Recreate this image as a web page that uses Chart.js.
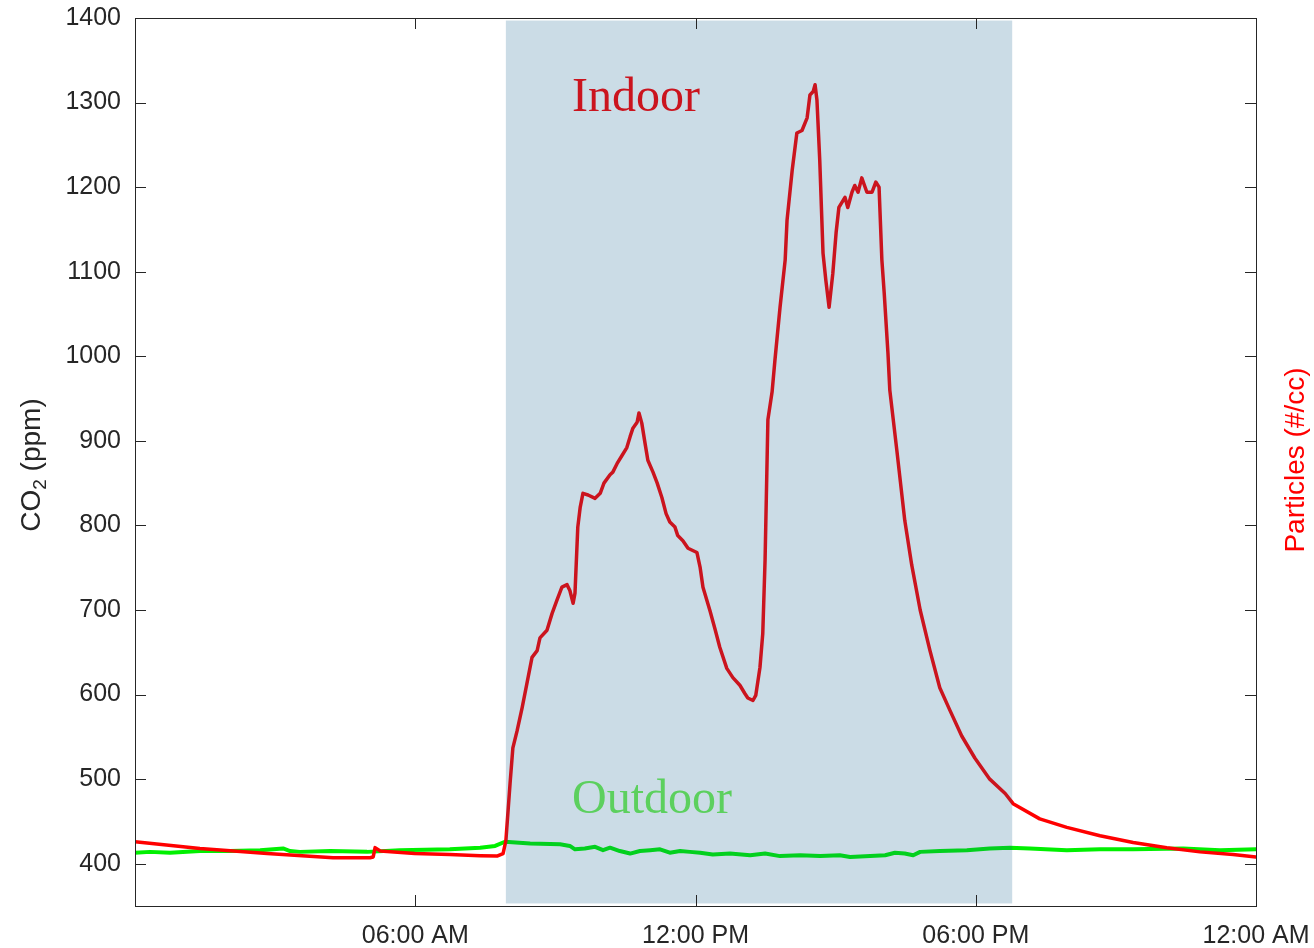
<!DOCTYPE html>
<html>
<head>
<meta charset="utf-8">
<script src="https://cdn.jsdelivr.net/npm/chart.js@4"></script>
<style>
  html, body { margin: 0; padding: 0; background: #ffffff; }
  #wrap { width: 1314px; height: 948px; position: relative; }
</style>
</head>
<body>
<div id="wrap"><canvas id="c" width="1314" height="948"></canvas></div>
<script>
// ---- Data (hours since midnight, CO2 ppm) ----
const indoorHours = [0.00,1.39,2.83,4.24,5.03,5.10,5.14,5.25,5.99,6.74,7.39,7.75,7.88,7.94,8.03,8.09,8.18,8.29,8.39,8.50,8.61,8.67,8.82,8.93,9.03,9.14,9.25,9.31,9.38,9.42,9.48,9.53,9.59,9.70,9.85,9.96,10.04,10.17,10.23,10.32,10.43,10.53,10.60,10.66,10.75,10.79,10.85,10.92,10.98,11.09,11.18,11.28,11.37,11.45,11.56,11.62,11.73,11.84,12.03,12.10,12.16,12.31,12.42,12.52,12.67,12.80,12.95,13.06,13.12,13.23,13.29,13.38,13.44,13.49,13.55,13.64,13.70,13.81,13.92,13.96,14.07,14.17,14.28,14.39,14.45,14.52,14.56,14.60,14.66,14.73,14.79,14.86,14.94,15.01,15.07,15.20,15.26,15.35,15.41,15.48,15.56,15.67,15.78,15.86,15.93,15.99,16.04,16.12,16.16,16.31,16.48,16.63,16.81,17.02,17.23,17.45,17.70,17.98,18.30,18.63,18.80,19.37,19.95,20.66,21.37,22.09,22.80,23.51,24.00];
const indoorCO2 = [426,418,412,407,407,408,419,415,412,411,409.5,409,412,427,495,537,557,585,613,644,652,667,676,696,711,727,730,723,708,720,798,821,838,836,832,838,850,860,863,873,883,892,905,915,922,933,921,897,877,863,850,833,814,804,798,788,782,773,768,750,727,699,677,656,631,620,611,601,596,593,599,632,672,760,925,958,995,1058,1114,1161,1220,1264,1267,1282,1309,1313,1321,1303,1232,1122,1090,1058,1098,1146,1176,1188,1176,1194,1202,1194,1211,1194,1194,1206,1200,1114,1075,1004,960,889,806,753,700,652,608,581,551,525,500,483,471,453,443,433,425,419,414,411,408];

const outdoorHours = [0.00,0.32,0.75,1.39,2.03,2.68,3.17,3.32,3.53,4.18,4.97,5.67,6.74,7.39,7.71,7.92,8.46,9.10,9.31,9.42,9.63,9.85,10.02,10.17,10.38,10.60,10.81,11.03,11.24,11.45,11.67,11.88,12.10,12.37,12.74,13.17,13.49,13.81,14.24,14.67,15.09,15.31,15.74,16.06,16.27,16.48,16.66,16.81,17.23,17.81,18.30,18.73,19.16,19.95,20.66,21.37,22.44,23.23,24.00];
const outdoorCO2 = [413,414,413,415,415,416,418,415,414,415,414,416,417,419,421,426,424,423,421,417,418,420,416,419,415,412,415,416,417,413,415,414,413,411,412,410,412,409,410,409,410,408,409,410,413,412,410,414,415,416,418,419,418,416,417,417,418,416,417];

const xTickHours = [6, 12, 18, 24];
const xTickLabels = ['06:00 AM', '12:00 PM', '06:00 PM', '12:00 AM'];
const yTicks = [400, 500, 600, 700, 800, 900, 1000, 1100, 1200, 1300, 1400];

// occupied period (shaded), hours and ppm extent
const shadeStartHour = 7.94, shadeEndHour = 18.78;
const shadeTopPPM = 1397, shadeBottomPPM = 353;

const toPoints = (xs, ys) => xs.map((x, i) => ({ x: x, y: ys[i] }));

const TXT = '#262626';
const FONT = '"Liberation Sans", Arial, sans-serif';
const zeroPad = s => { s.paddingTop = 0; s.paddingBottom = 0; s.paddingLeft = 0; s.paddingRight = 0; };

const overlayPlugin = {
  id: 'overlay',
  afterDatasetsDraw(chart) {
    const { ctx, chartArea: a, scales } = chart;
    const xs = scales.x, ys = scales.y;
    ctx.save();
    // annotation texts
    ctx.font = '48px "Liberation Serif", "Times New Roman", serif';
    ctx.textBaseline = 'alphabetic';
    ctx.textAlign = 'left';
    ctx.fillStyle = '#ff0000';
    ctx.fillText('Indoor', 572, 111);
    ctx.fillStyle = '#72f052';
    ctx.fillText('Outdoor', 572, 813);
    // shaded occupied period (semi-transparent overlay)
    const x0 = xs.getPixelForValue(shadeStartHour), x1 = xs.getPixelForValue(shadeEndHour);
    const y0 = ys.getPixelForValue(shadeTopPPM), y1 = ys.getPixelForValue(shadeBottomPPM);
    ctx.fillStyle = 'rgba(14, 93, 139, 0.215)';
    ctx.fillRect(x0, y0, x1 - x0, y1 - y0);
    // box
    ctx.strokeStyle = TXT;
    ctx.lineWidth = 1;
    ctx.strokeRect(Math.round(a.left) + 0.5, Math.round(a.top) + 0.5, Math.round(a.right - a.left), Math.round(a.bottom - a.top));
    // inward ticks
    const tl = 11;
    ctx.beginPath();
    yTicks.forEach(v => {
      const y = Math.round(ys.getPixelForValue(v)) + 0.5;
      ctx.moveTo(a.left, y); ctx.lineTo(a.left + tl, y);
      ctx.moveTo(a.right, y); ctx.lineTo(a.right - tl, y);
    });
    xTickHours.forEach(h => {
      const x = Math.round(xs.getPixelForValue(h)) + 0.5;
      ctx.moveTo(x, a.bottom); ctx.lineTo(x, a.bottom - tl);
      ctx.moveTo(x, a.top); ctx.lineTo(x, a.top + tl);
    });
    ctx.stroke();
    // left axis title with subscript
    const fBig = '28px ' + FONT;
    const fSmall = '19px ' + FONT;
    ctx.font = fBig; const wCO = ctx.measureText('CO').width; const wRest = ctx.measureText(' (ppm)').width;
    ctx.font = fSmall; const w2 = ctx.measureText('2').width;
    const total = wCO + w2 + wRest;
    ctx.save();
    ctx.translate(32, 465);
    ctx.rotate(-Math.PI / 2);
    ctx.fillStyle = TXT;
    ctx.textBaseline = 'middle';
    ctx.textAlign = 'left';
    let cx = -total / 2;
    ctx.font = fBig; ctx.fillText('CO', cx, 0); cx += wCO;
    ctx.font = fSmall; ctx.fillText('2', cx, 9); cx += w2;
    ctx.font = fBig; ctx.fillText(' (ppm)', cx, 0);
    ctx.restore();
    // right axis title
    ctx.save();
    ctx.translate(1296, 460);
    ctx.rotate(-Math.PI / 2);
    ctx.fillStyle = '#ff0000';
    ctx.textAlign = 'center';
    ctx.textBaseline = 'middle';
    ctx.font = fBig;
    ctx.fillText('Particles (#/cc)', 0, 0);
    ctx.restore();
    ctx.restore();
  }
};

new Chart(document.getElementById('c'), {
  type: 'line',
  data: {
    datasets: [
      { label: 'Indoor', data: toPoints(indoorHours, indoorCO2), borderColor: '#ff0000', borderWidth: 3.5, pointRadius: 0, tension: 0, borderJoinStyle: 'round', borderCapStyle: 'round', yAxisID: 'y' },
      { label: 'Outdoor', data: toPoints(outdoorHours, outdoorCO2), borderColor: '#00f000', borderWidth: 4, pointRadius: 0, tension: 0, borderJoinStyle: 'round', borderCapStyle: 'round', yAxisID: 'y' }
    ]
  },
  options: {
    responsive: false,
    animation: false,
    events: [],
    layout: { padding: { top: 18, left: 0, right: 0, bottom: 0 } },
    plugins: { legend: { display: false }, tooltip: { enabled: false } },
    scales: {
      x: {
        type: 'linear', min: 0, max: 24,
        grid: { display: false, drawTicks: false },
        border: { display: false },
        afterBuildTicks: s => { s.ticks = xTickHours.map(v => ({ value: v })); },
        ticks: {
          autoSkip: false, maxRotation: 0, padding: 15,
          color: TXT, font: { family: FONT, size: 25 },
          callback: v => { const i = xTickHours.indexOf(v); return i >= 0 ? xTickLabels[i] : ''; }
        },
        afterFit: s => { s.height = 42; zeroPad(s); }
      },
      y: {
        type: 'linear', position: 'left', min: 350, max: 1400,
        grid: { display: false, drawTicks: false },
        border: { display: false },
        afterBuildTicks: s => { s.ticks = yTicks.map(v => ({ value: v })); },
        ticks: { padding: 14, color: TXT, font: { family: FONT, size: 25 }, callback: v => String(v) },
        afterFit: s => { s.width = 135; zeroPad(s); }
      },
      y2: {
        type: 'linear', position: 'right', min: 350, max: 1400,
        grid: { display: false, drawTicks: false },
        border: { display: false },
        ticks: { display: false },
        afterFit: s => { s.width = 58; zeroPad(s); }
      }
    }
  },
  plugins: [overlayPlugin]
});
</script>
</body>
</html>
